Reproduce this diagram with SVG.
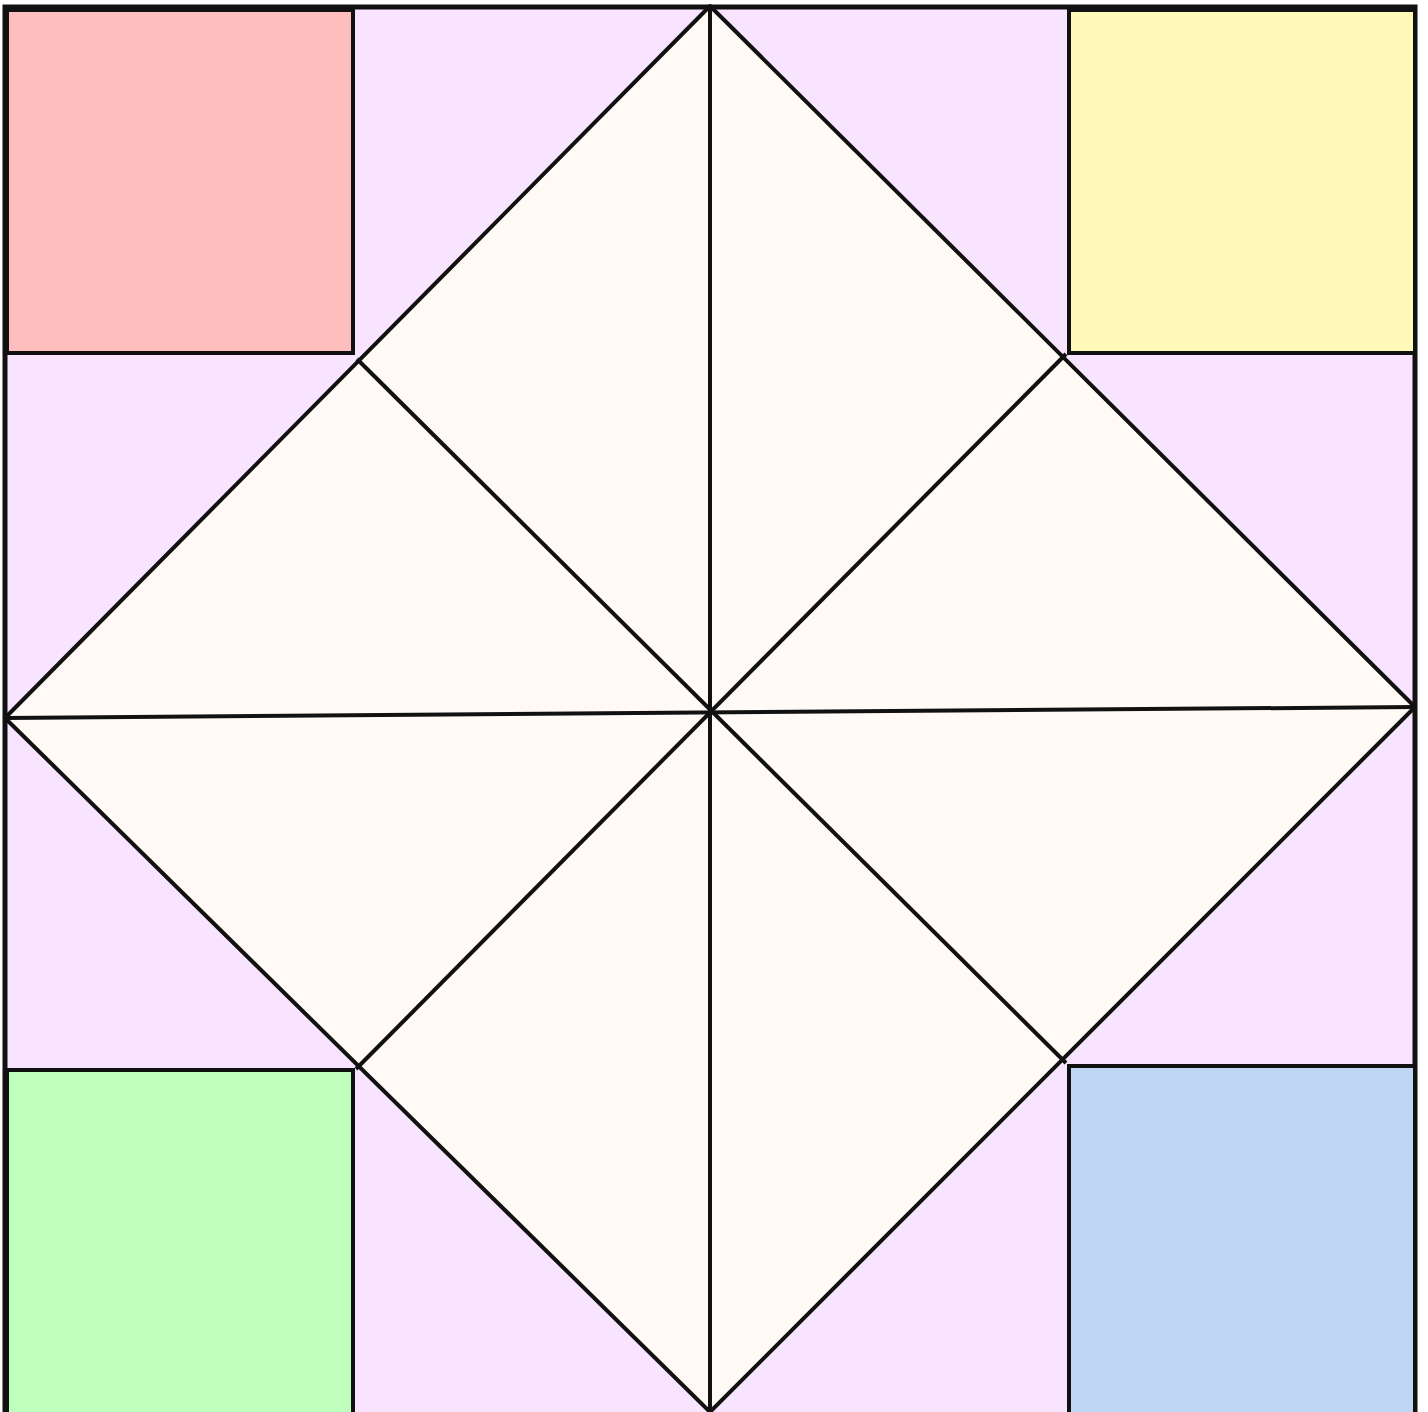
<svg xmlns="http://www.w3.org/2000/svg" width="1428" height="1412" viewBox="0 0 1428 1412">
<style>
.ln{stroke:#111;stroke-width:4;fill:none}
.sq{stroke:#111;stroke-width:4}
.tri{fill:#FFFAF5;stroke:#111;stroke-width:4;stroke-linejoin:round}
</style>
<rect x="0" y="0" width="1428" height="1412" fill="#ffffff"/>
<g id="sheet">
<rect x="5" y="7" width="1410" height="1415" fill="#F9E4FF" stroke="#111" stroke-width="5"/>
</g>
<g id="pink"><rect x="7" y="10" width="346" height="343" fill="#FFBEBE" class="sq"/></g>
<g id="yellow"><rect x="1069" y="10" width="346" height="343" fill="#FFFAB9" class="sq"/></g>
<g id="green"><rect x="7" y="1070" width="346" height="350" fill="#BEFFBE" class="sq"/></g>
<g id="blue"><rect x="1069" y="1066" width="346" height="354" fill="#BFD7F4" class="sq"/></g>
<g id="diamond">
<polygon points="710,6 1415,707 710,1412 5,718" class="tri"/>
</g>
<g id="folds">
<line x1="710" y1="6" x2="710" y2="1412" class="ln"/>
<line x1="5" y1="718" x2="1415" y2="707" class="ln"/>
<line x1="357" y1="359" x2="1066" y2="1063" class="ln"/>
<line x1="1066" y1="354" x2="356" y2="1069" class="ln"/>
</g>
</svg>
